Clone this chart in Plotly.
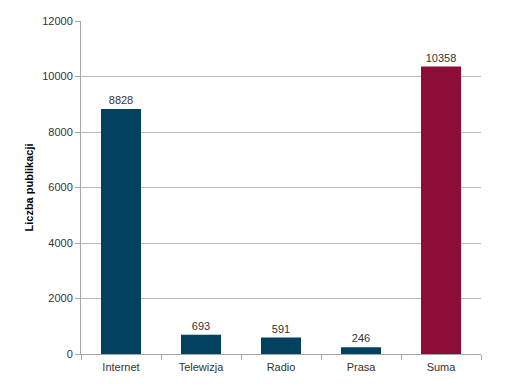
import plotly.graph_objects as go

categories = ["Internet", "Telewizja", "Radio", "Prasa", "Suma"]
values = [8828, 693, 591, 246, 10358]
colors = ["#02415f", "#02415f", "#02415f", "#02415f", "#8b0d38"]

fig = go.Figure(go.Bar(
    x=categories, y=values,
    marker=dict(color=colors, line=dict(width=0)),
    width=0.5,
    text=[str(v) for v in values],
    textposition="outside",
    textfont=dict(family="Liberation Sans, Arial", size=11, color="#333333"),
    cliponaxis=False,
))

fig.update_layout(
    width=528, height=390,
    margin=dict(l=73, r=55, t=13, b=44),
    paper_bgcolor="white", plot_bgcolor="white",
    font=dict(family="Liberation Sans, Arial", size=11, color="#333333"),
    showlegend=False,
    bargap=0.5,
)
fig.update_xaxes(
    type="category",
    showline=True, linecolor="#a6a6a6", linewidth=1,
    ticks="outside", tickson="boundaries", ticklen=5, tickcolor="#a6a6a6",
    showgrid=False, automargin=False, ticklabelstandoff=3,
    tickfont=dict(size=11, color="#333333"),
)
fig.update_yaxes(
    range=[0, 12000], dtick=2000, tickformat="d",
    showline=True, linecolor="#a6a6a6", linewidth=1,
    ticks="outside", ticklen=5, tickcolor="#a6a6a6",
    gridcolor="#b8b8b8", gridwidth=1, automargin=False,
    tickfont=dict(size=11, color="#333333"),
    title=dict(text="<b>Liczba publikacji</b>", font=dict(size=11, color="#000000"), standoff=6),
    zeroline=False,
)

fig.write_html("out.html")
